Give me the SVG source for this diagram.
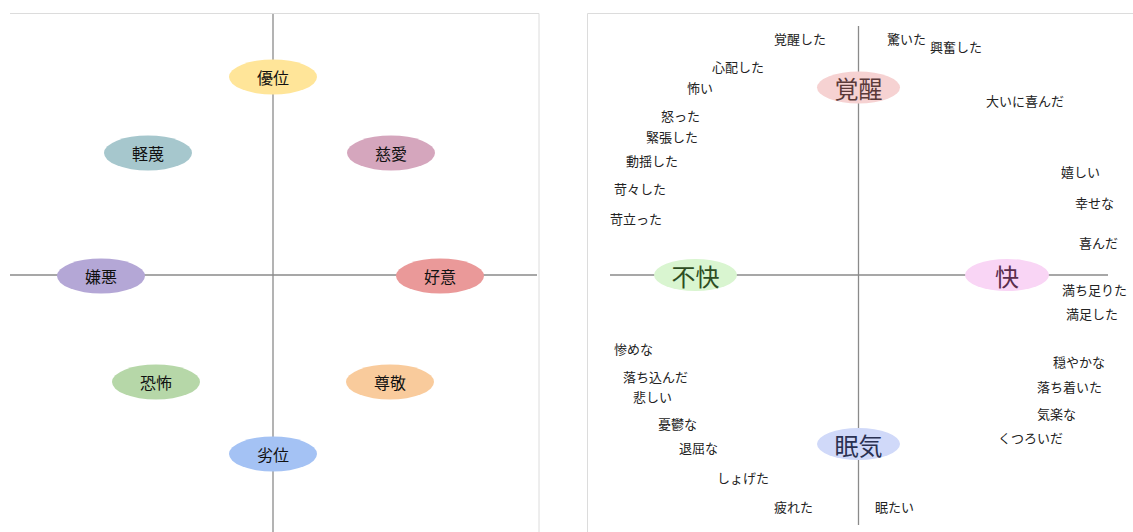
<svg xmlns="http://www.w3.org/2000/svg" width="1133" height="532" viewBox="0 0 1133 532">
<style>
.frame{stroke:#dcdcdc;stroke-width:1;fill:none}
.axis{stroke:#8a8a8a;stroke-width:1.3;fill:none}
.lbl{font-family:"Noto Sans CJK JP","Noto Sans CJK SC",sans-serif;font-size:16px;fill:#111;text-anchor:middle;dominant-baseline:central}
.big{font-family:"Noto Sans CJK JP","Noto Sans CJK SC",sans-serif;font-size:24px;text-anchor:middle;dominant-baseline:central}
.w{font-family:"Noto Sans CJK JP","Noto Sans CJK SC",sans-serif;font-size:13px;fill:#222;dominant-baseline:central}
</style>
<rect width="1133" height="532" fill="#fff"/>
<g id="frames">
<path class="frame" d="M10 13.5H539V532"/>
<path class="frame" d="M1133 13.5H587.5V532"/>
</g>
<g id="connectors">
<line class="axis" x1="273" y1="14" x2="273" y2="532"/>
<line class="axis" x1="10" y1="275" x2="537" y2="275"/>
<line class="axis" x1="858.5" y1="26" x2="858.5" y2="525"/>
<line class="axis" x1="610" y1="275" x2="1108" y2="275"/>
</g>
<g id="n-yui"><ellipse cx="273" cy="77" rx="44" ry="17.5" fill="#ffe599"/><text class="lbl" x="273" y="77">優位</text></g>
<g id="n-keibetsu"><ellipse cx="148" cy="153" rx="44" ry="17.5" fill="#a6c7cd"/><text class="lbl" x="148" y="153">軽蔑</text></g>
<g id="n-jiai"><ellipse cx="391" cy="153" rx="44" ry="17.5" fill="#d5a6bd"/><text class="lbl" x="391" y="153">慈愛</text></g>
<g id="n-ken-o"><ellipse cx="101" cy="276" rx="44" ry="17.5" fill="#b4a7d6"/><text class="lbl" x="101" y="276">嫌悪</text></g>
<g id="n-koui"><ellipse cx="440" cy="276" rx="44" ry="17.5" fill="#ea9999"/><text class="lbl" x="440" y="276">好意</text></g>
<g id="n-kyoufu"><ellipse cx="156" cy="382" rx="44" ry="17.5" fill="#b6d7a8"/><text class="lbl" x="156" y="382">恐怖</text></g>
<g id="n-sonkei"><ellipse cx="390" cy="382" rx="44" ry="17.5" fill="#f9cb9c"/><text class="lbl" x="390" y="382">尊敬</text></g>
<g id="n-retsui"><ellipse cx="273" cy="454" rx="44" ry="17.5" fill="#a4c2f4"/><text class="lbl" x="273" y="454">劣位</text></g>
<g id="n-kakusei"><ellipse cx="858.5" cy="87.5" rx="41.5" ry="16" fill="#f6d2d2"/><text class="big" x="858.5" y="87.5" fill="#5b3a3a">覚醒</text></g>
<g id="n-fukai"><ellipse cx="695.5" cy="275" rx="41.5" ry="16" fill="#d9f5d0"/><text class="big" x="695.5" y="275" fill="#2e4d22">不快</text></g>
<g id="n-kai"><ellipse cx="1007" cy="275" rx="42" ry="16" fill="#f9d5f5"/><text class="big" x="1007" y="275" fill="#5a2d4d">快</text></g>
<g id="n-nemuke"><ellipse cx="858.5" cy="444" rx="41.5" ry="16" fill="#d0d9f9"/><text class="big" x="858.5" y="444" fill="#2a3152">眠気</text></g>
<g id="words">
<text class="w" x="774" y="38">覚醒した</text>
<text class="w" x="712" y="66">心配した</text>
<text class="w" x="687" y="87">怖い</text>
<text class="w" x="661" y="115">怒った</text>
<text class="w" x="646" y="136">緊張した</text>
<text class="w" x="626" y="160">動揺した</text>
<text class="w" x="614" y="188">苛々した</text>
<text class="w" x="610" y="218">苛立った</text>
<text class="w" x="887" y="38">驚いた</text>
<text class="w" x="930" y="46">興奮した</text>
<text class="w" x="986" y="100">大いに喜んだ</text>
<text class="w" x="1061" y="171">嬉しい</text>
<text class="w" x="1075" y="202">幸せな</text>
<text class="w" x="1079" y="242">喜んだ</text>
<text class="w" x="614" y="348">惨めな</text>
<text class="w" x="623" y="376">落ち込んだ</text>
<text class="w" x="633" y="396">悲しい</text>
<text class="w" x="658" y="423">憂鬱な</text>
<text class="w" x="679" y="447">退屈な</text>
<text class="w" x="717" y="477">しょげた</text>
<text class="w" x="774" y="506">疲れた</text>
<text class="w" x="1062" y="289">満ち足りた</text>
<text class="w" x="1066" y="313">満足した</text>
<text class="w" x="1053" y="361">穏やかな</text>
<text class="w" x="1037" y="386">落ち着いた</text>
<text class="w" x="1037" y="413">気楽な</text>
<text class="w" x="998" y="437">くつろいだ</text>
<text class="w" x="875" y="506">眠たい</text>
</g>
</svg>
